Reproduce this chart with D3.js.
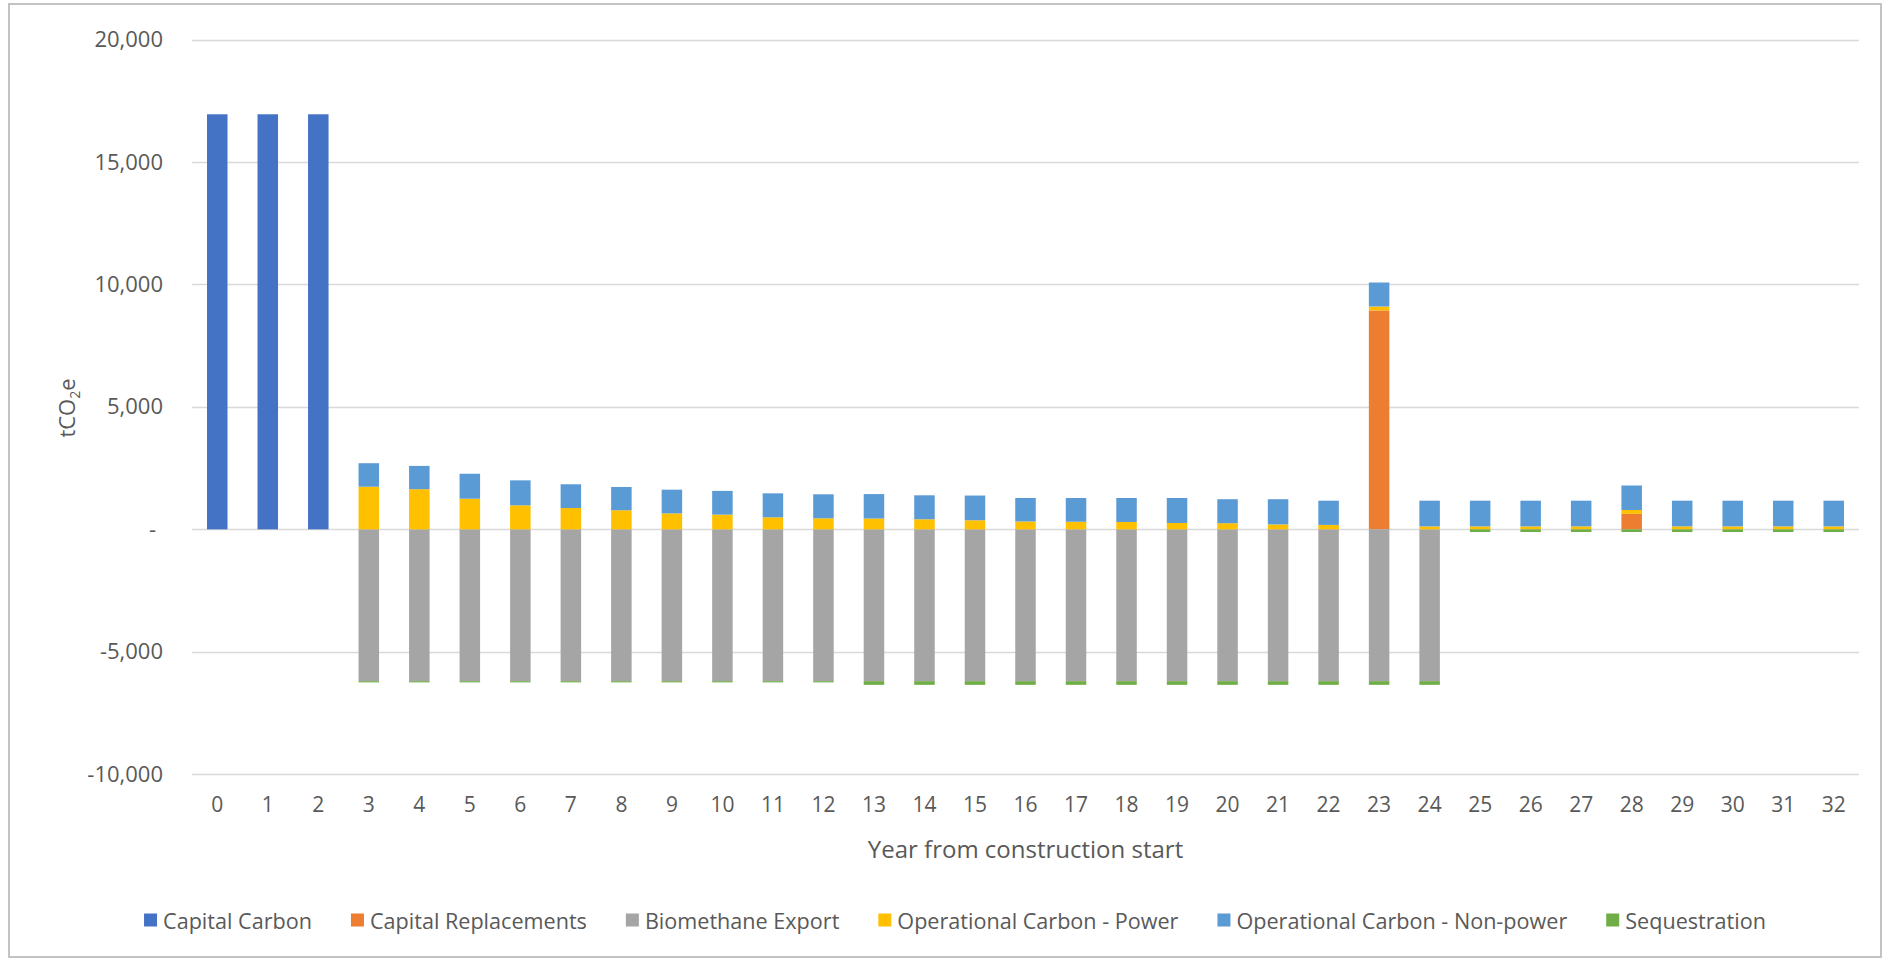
<!DOCTYPE html>
<html>
<head>
<meta charset="utf-8">
<script src="https://cdn.jsdelivr.net/npm/d3@7"></script>
<style>
  html, body { margin: 0; padding: 0; background: #fff; }
  svg { display: block; }
  text { font-family: "Open Sans", "Noto Sans", sans-serif; fill: #595959; }
</style>
</head>
<body>
<svg id="chart" width="1890" height="959"></svg>
<script>
// Years from construction start
const years = ["0","1","2","3","4","5","6","7","8","9","10","11","12","13","14","15","16",
               "17","18","19","20","21","22","23","24","25","26","27","28","29","30","31","32"];

// Annual emissions by source, tCO2e
const capitalCarbon = [16950,16950,16950,0,0,0,0,0,0,0,0,0,0,0,0,0,0,
                       0,0,0,0,0,0,0,0,0,0,0,0,0,0,0,0];
const capitalReplacements = [0,0,0,0,0,0,0,0,0,0,0,0,0,0,0,0,0,
                             0,0,0,0,0,0,8940,0,0,0,0,630,0,0,0,0];
const biomethaneExport = [0,0,0,-6200,-6200,-6200,-6200,-6200,-6200,-6200,-6200,-6200,-6200,-6200,-6200,-6200,-6200,
                          -6200,-6200,-6200,-6200,-6200,-6200,-6200,-6200,0,0,0,0,0,0,0,0];
const operationalPower = [0,0,0,1740,1640,1250,980,870,780,650,600,490,450,440,410,370,320,
                          310,300,260,250,200,180,160,120,120,120,120,160,120,120,120,120];
const operationalNonPower = [0,0,0,960,950,1020,1020,970,950,970,970,980,980,1000,980,1010,960,
                             970,980,1020,980,1030,990,980,1050,1050,1050,1050,1000,1050,1050,1050,1050];
const sequestration = [0,0,0,-50,-50,-50,-50,-50,-50,-50,-50,-50,-50,-150,-150,-150,-150,
                       -150,-150,-150,-150,-150,-150,-150,-150,-110,-110,-110,-110,-110,-110,-110,-110];

// Y axis ticks
const yTicks = [-10000, -5000, 0, 5000, 10000, 15000, 20000];

const seriesNames = ["Capital Carbon", "Capital Replacements", "Biomethane Export",
                     "Operational Carbon - Power", "Operational Carbon - Non-power", "Sequestration"];
const seriesColors = ["#4472C4", "#ED7D31", "#A5A5A5", "#FFC000", "#5B9BD5", "#70AD47"];
const seriesValues = [capitalCarbon, capitalReplacements, biomethaneExport,
                      operationalPower, operationalNonPower, sequestration];

const rows = years.map((y, i) => {
  const r = { year: y };
  seriesNames.forEach((n, k) => { r[n] = seriesValues[k][i]; });
  return r;
});

const svg = d3.select("#chart");
const W = 1890, H = 959;
const plot = { left: 192, right: 1859, top: 39.6, bottom: 774.2 };

// chart frame
svg.append("rect")
  .attr("x", 0).attr("y", 0).attr("width", W).attr("height", H).attr("fill", "#fff");
svg.append("rect")
  .attr("x", 9).attr("y", 4).attr("width", 1872).attr("height", 953)
  .attr("fill", "none").attr("stroke", "#c3c3c3").attr("stroke-width", 2);

const x = d3.scaleBand().domain(years).range([plot.left, plot.right]).paddingInner(0.594).paddingOuter(0.297);
const y = d3.scaleLinear().domain([-10000, 20000]).range([plot.bottom, plot.top]);

const locale = d3.formatLocale({ decimal: ".", thousands: ",", grouping: [3], currency: ["", ""], minus: "-" });
const fmt = locale.format(",");

// gridlines
svg.append("g").selectAll("line").data(yTicks).join("line")
  .attr("x1", plot.left).attr("x2", plot.right)
  .attr("y1", d => Math.round(y(d)) + 0.5).attr("y2", d => Math.round(y(d)) + 0.5)
  .attr("stroke", "#d9d9d9").attr("stroke-width", 1.6);

// stacked bars
const stack = d3.stack().keys(seriesNames).offset(d3.stackOffsetDiverging);
const layers = stack(rows);

svg.append("g").selectAll("g").data(layers).join("g")
  .attr("fill", (d, i) => seriesColors[i])
  .selectAll("rect").data(d => d).join("rect")
  .attr("x", d => x(d.data.year))
  .attr("width", x.bandwidth())
  .attr("y", d => y(Math.max(d[0], d[1])))
  .attr("height", d => Math.abs(y(d[0]) - y(d[1])));

// y axis labels
const yAxis = svg.append("g").attr("transform", `translate(${plot.left - 29},0)`)
  .call(d3.axisLeft(y).tickValues(yTicks).tickSize(0).tickPadding(0)
    .tickFormat(d => d === 0 ? "-" : fmt(d)));
yAxis.select(".domain").remove();
yAxis.selectAll("text")
  .attr("font-size", 22).attr("font-family", null)
  .attr("dx", d => d === 0 ? -7 : 0);

// x axis labels
const xAxis = svg.append("g").attr("transform", `translate(0,${805 - 8})`)
  .call(d3.axisBottom(x).tickSize(0).tickPadding(0));
xAxis.select(".domain").remove();
xAxis.selectAll("text").attr("font-size", 21).attr("font-family", null).attr("dy", "0.71em");

// axis titles
svg.append("text")
  .attr("x", (plot.left + plot.right) / 2).attr("y", 848)
  .attr("text-anchor", "middle").attr("dominant-baseline", "central")
  .attr("font-size", 24)
  .text("Year from construction start");

const yt = svg.append("text")
  .attr("transform", "translate(75,408) rotate(-90)")
  .attr("text-anchor", "middle")
  .attr("font-size", 22);
yt.append("tspan").text("tCO");
yt.append("tspan").attr("font-size", 14).attr("dy", 5).text("2");
yt.append("tspan").attr("dy", -5).text("e");

// legend
const legend = svg.append("g");
const items = legend.selectAll("g").data(seriesNames).join("g");
items.append("rect").attr("width", 13).attr("height", 13).attr("y", -6.5)
  .attr("fill", (d, i) => seriesColors[i]);
items.append("text").attr("x", 19).attr("dominant-baseline", "central")
  .attr("font-size", 21.6).text(d => d);
let cx = 0;
items.each(function () {
  const g = d3.select(this);
  const w = 19 + g.select("text").node().getComputedTextLength();
  g.attr("transform", `translate(${cx},0)`);
  cx += w + 39;
});
const total = cx - 39;
legend.attr("transform", `translate(${955 - total / 2},920)`);
</script>
</body>
</html>
